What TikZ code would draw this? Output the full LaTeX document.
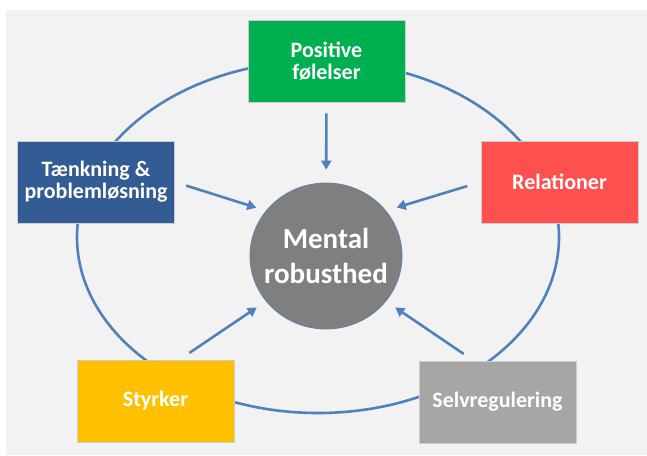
\documentclass[tikz,border=0pt]{standalone}
\usepackage{fontspec}
\setmainfont{Carlito}
\usetikzlibrary{arrows.meta,shapes.geometric}
\definecolor{panelgray}{HTML}{F2F2F2}
\definecolor{linkblue}{HTML}{4F81BD}
\definecolor{posgreen}{HTML}{00B050}
\definecolor{thinkblue}{HTML}{335C94}
\definecolor{relred}{HTML}{FF5050}
\definecolor{stryellow}{HTML}{FFC000}
\definecolor{selvgray}{HTML}{A6A6A6}
\definecolor{midgray}{HTML}{7F7F7F}

\begin{document}
\begin{tikzpicture}[x=1pt, y=-1pt,
    factor/.style={rectangle, draw=black!20, line width=0.6pt, minimum width=157pt, minimum height=82pt,
                   inner sep=0pt, align=center, text=white, font=\bfseries\fontsize{22}{22}\selectfont},
    link/.style={linkblue, line width=2.6pt, -{Triangle[length=9pt,width=10pt]}}]
    \useasboundingbox (0,0) rectangle (647,455);
    \fill [panelgray] (6,10) rectangle (647,455);
    \draw [linkblue, line width=2.6pt] (318,237) ellipse [x radius=241pt, y radius=176pt];

    \node (mid) at (326,256) [ellipse, fill=midgray, draw=linkblue!70!midgray, line width=0.8pt,
        minimum width=152pt, minimum height=146pt, inner xsep=-10pt, inner ysep=0pt, align=center,
        text=white, font=\bfseries\fontsize{29}{35}\selectfont] {Mental\\robusthed};
    \node (pos) at (326.5,61) [factor, fill=posgreen] {Positive\\følelser};
    \node (think) at (96,182) [factor, fill=thinkblue] {Tænkning \&\\problemløsning};
    \node (rel) at (559.5,182) [factor, fill=relred] {Relationer};
    \node (str) at (155.5,401) [factor, fill=stryellow] {Styrker};
    \node (selv) at (497.5,402) [factor, fill=selvgray] {Selvregulering};

    \path [link] (pos) edge [shorten <=11pt, shorten >=13pt] (mid)
              (think.east) edge [shorten <=12pt, shorten >=10pt] (mid.143)
              (rel.west) edge [shorten <=14pt, shorten >=11pt] (mid.37)
              (str.60) edge [shorten <=12pt, shorten >=11pt] (mid.217)
              (selv.120) edge [shorten <=12pt, shorten >=11pt] (mid.323);
\end{tikzpicture}
\end{document}
